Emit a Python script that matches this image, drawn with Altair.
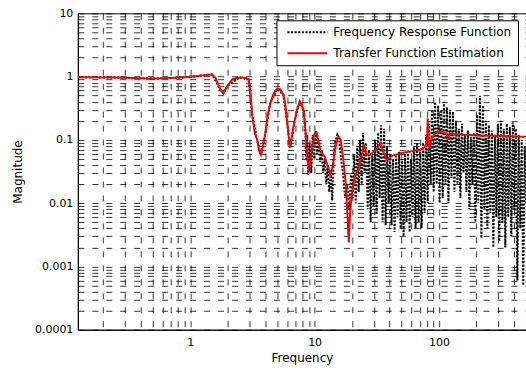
import altair as alt
import pandas as pd

SERIES = ["Frequency Response Function", "Transfer Function Estimation"]

# Transfer Function Estimation (red)
TF_FREQ = [0.125, 0.2, 0.3, 0.5, 0.7, 1.0, 1.3, 1.5, 1.6, 1.75, 1.85, 2.0, 2.2, 2.5, 2.8,
           2.95, 3.05, 3.15, 3.3, 3.45, 3.6, 3.7, 3.85, 4.0, 4.2, 4.4, 4.7, 5.0, 5.3, 5.6,
           5.8, 6.0, 6.2, 6.35, 6.6, 6.9, 7.3, 7.6, 7.9, 8.2, 8.5, 8.7, 9.0, 9.3, 9.6,
           10.0, 10.4, 10.8, 11.2, 12.0, 12.8, 13.4, 14.0, 14.8, 15.5, 16.2, 17.0, 17.8, 18.4, 18.8,
           19.2, 19.8, 21, 23, 25, 26, 28, 31, 34, 36, 38, 42, 50, 60, 70,
           76, 80, 81, 82.5, 84, 88, 95, 102, 115, 118, 121, 140, 200, 300, 500]
TF_MAG = [0.98, 0.97, 0.96, 0.93, 0.95, 0.99, 1.05, 1.08, 0.95, 0.62, 0.55, 0.72, 0.92, 0.97, 0.96,
          0.9, 0.55, 0.25, 0.13, 0.10, 0.065, 0.058, 0.08, 0.12, 0.25, 0.38, 0.55, 0.64, 0.63, 0.52,
          0.38, 0.20, 0.11, 0.075, 0.12, 0.2, 0.33, 0.40, 0.36, 0.28, 0.12, 0.055, 0.032, 0.05, 0.085,
          0.125, 0.13, 0.09, 0.065, 0.055, 0.038, 0.028, 0.04, 0.08, 0.115, 0.10, 0.05, 0.02, 0.006, 0.0024,
          0.006, 0.013, 0.025, 0.04, 0.085, 0.06, 0.058, 0.07, 0.09, 0.06, 0.049, 0.056, 0.062, 0.066, 0.07,
          0.075, 0.09, 0.22, 0.1, 0.075, 0.11, 0.13, 0.135, 0.125, 0.10, 0.125, 0.122, 0.118, 0.115, 0.112]

# Frequency Response Function (black dotted)
FRF_FREQ = [0.125, 0.25, 0.5, 0.8, 1.2, 1.5, 1.75, 1.85, 2.0, 2.5, 2.95, 3.15, 3.45, 3.7, 4.0,
            4.4, 5.0, 5.6, 6.0, 6.35, 6.9, 7.6, 8.2,
            8.4, 8.55, 8.7, 8.9, 9.1, 9.4, 9.65, 9.9, 10.2, 10.5, 10.8, 11.1, 11.4, 11.7, 12.05,
            12.4, 12.75, 13.1, 13.5, 13.85, 14.2, 14.6, 15.2, 15.75, 16.3, 16.9, 17.6, 18.3, 18.95,
            19.7, 20.2, 20.8, 21.4, 22.0, 22.6, 23.2, 23.9, 24.5, 25.2, 25.9, 26.7, 27.4, 28.2,
            29.0, 29.8, 30.6, 31.5, 32.4, 33.3, 34.2, 35.2, 36.2, 37.2, 38.2, 39.3, 40.4, 41.5,
            42.7, 43.9, 45.1, 46.4, 47.7, 49.1, 50.4, 51.9, 53.3, 54.8, 56.4, 58.0, 59.6, 61.3,
            62.9, 64.8, 66.6, 68.5, 70.4, 72.4, 74.4, 76.5, 78.7, 81.0, 83.0, 85.7, 88.0, 90.5,
            93.0, 95.7, 98.4, 101, 104, 107, 109.5, 112.6, 115.8, 119, 122.4, 125.9, 129.4, 133,
            136.9, 140.7, 144.4, 148.6, 152.8, 157, 161.5, 166, 170.7, 175.5, 180.4, 185.5, 190.5,
            196, 201.5, 207, 213, 219, 225, 231.5, 238, 244.6, 251, 258.5, 265.8, 273.2, 281,
            289, 297, 305, 314, 323, 331.5, 341, 350.5, 360.5, 370.6, 381, 392, 403, 414, 426,
            437.4, 450, 462, 475, 488, 500]
FRF_MAG = [0.98, 0.97, 0.93, 0.96, 1.03, 1.08, 0.62, 0.55, 0.72, 0.97, 0.9, 0.25, 0.1, 0.058, 0.12,
           0.38, 0.64, 0.52, 0.2, 0.075, 0.2, 0.4, 0.28,
           0.15, 0.05, 0.12, 0.028, 0.09, 0.03, 0.12, 0.05, 0.14, 0.06, 0.1, 0.045, 0.07, 0.03, 0.05,
           0.02, 0.04, 0.015, 0.03, 0.011, 0.05, 0.09, 0.12, 0.1, 0.05, 0.03, 0.012, 0.02, 0.008,
           0.03, 0.012, 0.06, 0.01, 0.08, 0.015, 0.1, 0.02, 0.13, 0.03, 0.09, 0.008, 0.07, 0.005,
           0.06, 0.009, 0.1, 0.007, 0.13, 0.012, 0.17, 0.005, 0.15, 0.0045, 0.08, 0.01, 0.06, 0.0045,
           0.05, 0.0035, 0.055, 0.006, 0.065, 0.004, 0.05, 0.003, 0.06, 0.005, 0.07, 0.0035, 0.05, 0.006,
           0.08, 0.004, 0.09, 0.005, 0.07, 0.004, 0.09, 0.007, 0.12, 0.01, 0.18, 0.02, 0.3, 0.015,
           0.4, 0.02, 0.35, 0.01, 0.3, 0.012, 0.4, 0.02, 0.33, 0.01, 0.3, 0.025, 0.28, 0.015,
           0.2, 0.02, 0.15, 0.012, 0.18, 0.03, 0.12, 0.015, 0.14, 0.008, 0.11, 0.02, 0.13,
           0.005, 0.25, 0.01, 0.5, 0.0028, 0.35, 0.008, 0.2, 0.004, 0.17, 0.007, 0.14, 0.002, 0.12,
           0.006, 0.18, 0.0025, 0.2, 0.005, 0.15, 0.002, 0.18, 0.006, 0.16, 0.003, 0.19, 0.008, 0.15, 0.0006,
           0.12, 0.004, 0.1, 0.0005, 0.08, 0.01]

X_GRID = [0.2, 0.3, 0.4, 0.5, 0.6, 0.7, 0.8, 0.9, 1, 2, 3, 4, 5, 6, 7, 8, 9,
          10, 20, 30, 40, 50, 60, 70, 80, 90, 100, 200, 300, 400, 500]
Y_GRID = [0.0001, 0.0002, 0.0003, 0.0004, 0.0005, 0.0006, 0.0007, 0.0008, 0.0009,
          0.001, 0.002, 0.003, 0.004, 0.005, 0.006, 0.007, 0.008, 0.009,
          0.01, 0.02, 0.03, 0.04, 0.05, 0.06, 0.07, 0.08, 0.09,
          0.1, 0.2, 0.3, 0.4, 0.5, 0.6, 0.7, 0.8, 0.9, 1, 2, 3, 4, 5, 6, 7, 8, 9, 10]
X_LABELS = [1, 10, 100]
Y_LABELS = [0.0001, 0.001, 0.01, 0.1, 1, 10]

frf = pd.DataFrame({"freq": FRF_FREQ, "mag": FRF_MAG, "series": SERIES[0]})
frf["idx"] = range(len(frf))
tf = pd.DataFrame({"freq": TF_FREQ, "mag": TF_MAG, "series": SERIES[1]})
tf["idx"] = range(len(tf))
df = pd.concat([frf, tf], ignore_index=True)

FONT = "DejaVu Sans"


def lab_expr(vals):
    arr = ",".join(repr(v) for v in vals)
    return f"indexof([{arr}], datum.value) >= 0 ? format(datum.value, '~g') : ''"


def make_legend():
    return alt.Legend(
        title=None, orient="none", legendX=199, legendY=7,
        symbolType="M-1,0H7", symbolSize=100, symbolStrokeWidth=1.6,
        symbolOffset=4, labelOffset=35, labelLimit=400,
        labelFont=FONT, labelFontSize=12, labelColor="#000",
        padding=6, rowPadding=9,
        strokeColor="#000", fillColor="#fff", cornerRadius=0,
    )


chart = alt.Chart(df).mark_line(clip=True).encode(
    x=alt.X("freq:Q",
            scale=alt.Scale(type="log", domain=[0.125, 500], nice=False),
            axis=alt.Axis(title="Frequency", values=X_GRID, labelExpr=lab_expr(X_LABELS),
                          labelOverlap=False, labelPadding=7, titlePadding=5)),
    y=alt.Y("mag:Q",
            scale=alt.Scale(type="log", domain=[0.0001, 10], nice=False),
            axis=alt.Axis(title="Magnitude", values=Y_GRID, labelExpr=lab_expr(Y_LABELS),
                          labelOverlap=False, labelPadding=5, titlePadding=10)),
    color=alt.Color("series:N",
                    scale=alt.Scale(domain=SERIES, range=["#000000", "#ff0000"]),
                    legend=make_legend()),
    strokeDash=alt.StrokeDash("series:N",
                              scale=alt.Scale(domain=SERIES, range=[[2, 1.6], [1, 0]]),
                              legend=make_legend()),
    strokeWidth=alt.StrokeWidth("series:N",
                                scale=alt.Scale(domain=SERIES, range=[2.0, 2.0]),
                                legend=None),
    order=alt.Order("idx:Q"),
).properties(
    width=449,
    height=317,
    autosize=alt.AutoSizeParams(type="none"),
    padding={"left": 78, "top": 13, "right": 0, "bottom": 41},
    background="#ffffff",
).configure_view(
    stroke="#000", strokeWidth=1
).configure_axis(
    grid=True, gridColor="#000", gridOpacity=0.8, gridWidth=1, gridDash=[6, 8],
    ticks=False, tickSize=0,
    domainColor="#000", domainWidth=1,
    labelFont=FONT, labelFontSize=11, labelColor="#000",
    titleFont=FONT, titleFontSize=12, titleFontWeight="normal", titleColor="#000",
)

chart.save("out.html", embed_options={"renderer": "svg", "actions": False})
